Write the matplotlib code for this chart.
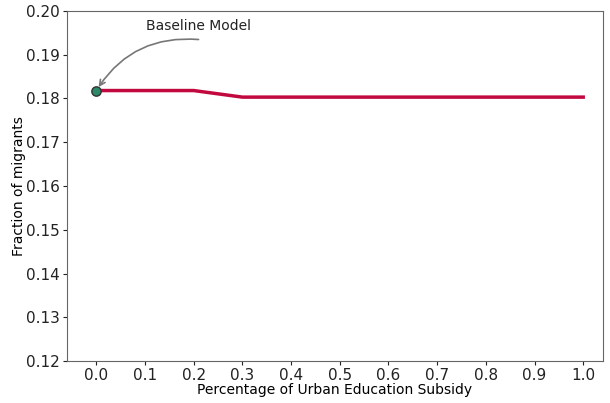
import numpy as np
import matplotlib.pyplot as plt

subsidy = [0.0, 0.1, 0.2, 0.3, 0.4, 0.5, 0.6, 0.7, 0.8, 0.9, 1.0]
migrants = [0.1818, 0.1818, 0.1818, 0.1803, 0.1803, 0.1803, 0.1803,
            0.1803, 0.1803, 0.1803, 0.1803]
baseline_x = 0.0
baseline_y = 0.1818

fig, ax = plt.subplots(figsize=(6.1, 4.03), dpi=100)
ax.plot(subsidy, migrants, color='#c2093f', linewidth=2.5)
ax.scatter([baseline_x], [baseline_y], s=45, color='#2a8a6a',
           edgecolor='#333333', linewidth=1, zorder=3)

ax.annotate('Baseline Model', xy=(baseline_x, baseline_y),
            xytext=(0.21, 0.1965), ha='center', va='center', fontsize=10,
            color='#222222',
            arrowprops=dict(arrowstyle='->', color='#777777', lw=1.2,
                            connectionstyle='arc3,rad=0.3', patchA=None,
                            relpos=(0.5, -0.45), shrinkA=0, shrinkB=3))

ax.set_xlim(-0.06, 1.04)
ax.set_ylim(0.12, 0.20)
ax.set_xticks(np.arange(0, 1.01, 0.1))
ax.set_xlabel('Percentage of Urban Education Subsidy', fontsize=10, labelpad=0)
ax.set_ylabel('Fraction of migrants', fontsize=10, labelpad=0)
for s in ax.spines.values():
    s.set_color('#666666')
ax.tick_params(labelsize=11, colors='#222222', length=3, pad=2)

plt.subplots_adjust(left=0.11, right=0.988, top=0.973, bottom=0.104)
plt.savefig('out.png')
